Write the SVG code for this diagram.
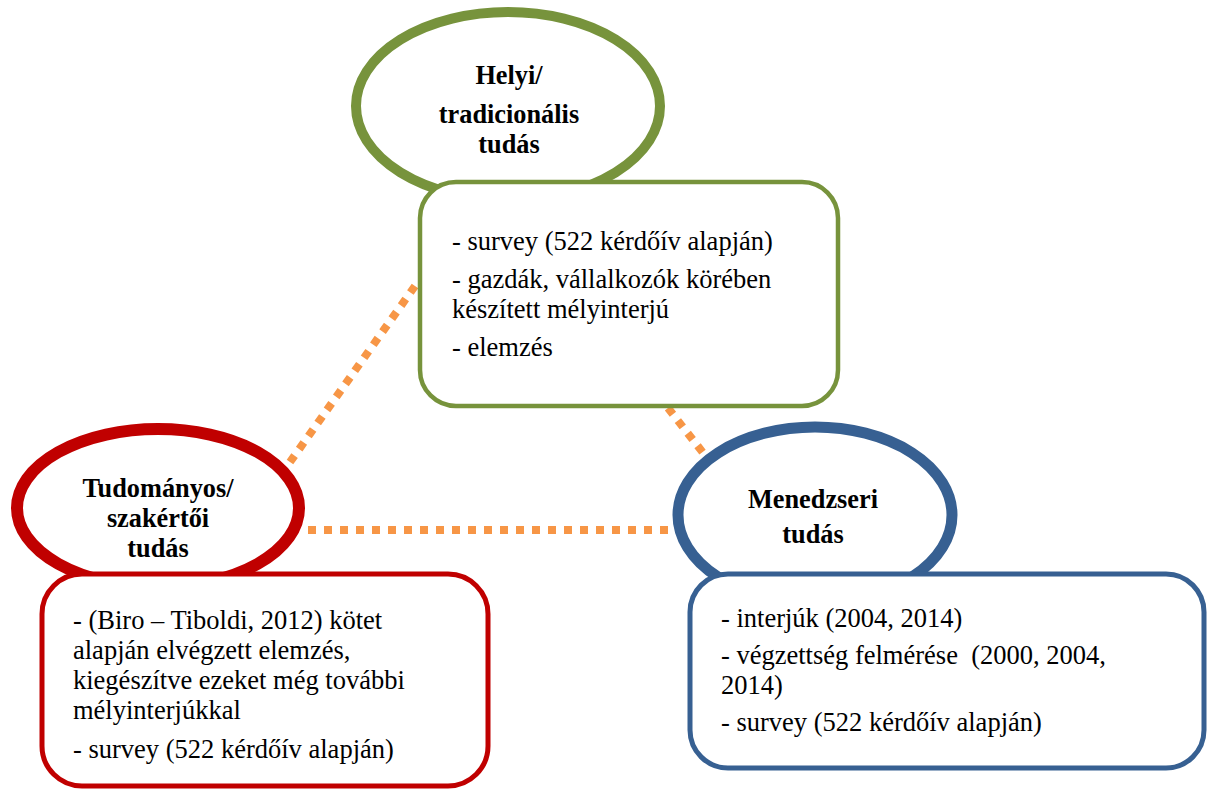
<svg xmlns="http://www.w3.org/2000/svg" width="1208" height="791" viewBox="0 0 1208 791">
<style>
.t{font-family:"Liberation Serif","Times New Roman",serif;font-size:26.5px;fill:#000}
.h{font-family:"Liberation Serif","Times New Roman",serif;font-size:26.3px;font-weight:bold;fill:#000;text-anchor:middle}
.dot{stroke:#F79646;stroke-width:8;stroke-dasharray:8 8;fill:none}
</style>
<rect width="1208" height="791" fill="#fff"/>
<g id="connectors">
<line class="dot" x1="415" y1="286" x2="290" y2="462"/>
<line class="dot" x1="308" y1="530" x2="676" y2="530"/>
<line class="dot" x1="668" y1="408" x2="704" y2="454"/>
</g>
<g id="helyi">
<ellipse cx="508" cy="106" rx="152" ry="94" fill="#fff" stroke="#77933C" stroke-width="10"/>
<rect x="420" y="182" width="418" height="224" rx="36" fill="#fff" stroke="#77933C" stroke-width="4.5"/>
<text class="h" x="509" y="84">Helyi/</text>
<text class="h" x="509" y="123">tradicionális</text>
<text class="h" x="509" y="153">tudás</text>
<text class="t" x="452" y="250">- survey (522 kérdőív alapján)</text>
<text class="t" x="452" y="288">- gazdák, vállalkozók körében</text>
<text class="t" x="452" y="318">készített mélyinterjú</text>
<text class="t" x="452" y="356">- elemzés</text>
</g>
<g id="tudomanyos">
<ellipse cx="158" cy="508" rx="141" ry="79" fill="#fff" stroke="#C00000" stroke-width="12"/>
<rect x="42" y="574" width="446" height="212" rx="40" fill="#fff" stroke="#C00000" stroke-width="5"/>
<text class="h" x="158" y="497">Tudományos/</text>
<text class="h" x="158" y="527">szakértői</text>
<text class="h" x="158" y="557">tudás</text>
<text class="t" x="73" y="629">- (Biro – Tiboldi, 2012) kötet</text>
<text class="t" x="73" y="659">alapján elvégzett elemzés,</text>
<text class="t" x="73" y="689">kiegészítve ezeket még további</text>
<text class="t" x="73" y="719">mélyinterjúkkal</text>
<text class="t" x="73" y="758">- survey (522 kérdőív alapján)</text>
</g>
<g id="menedzseri">
<ellipse cx="815" cy="515" rx="137" ry="88" fill="#fff" stroke="#376092" stroke-width="11"/>
<rect x="690" y="574" width="514" height="194" rx="38" fill="#fff" stroke="#376092" stroke-width="5"/>
<text class="h" x="813" y="508">Menedzseri</text>
<text class="h" x="813" y="543">tudás</text>
<text class="t" x="721" y="627">- interjúk (2004, 2014)</text>
<text class="t" x="721" y="664">- végzettség felmérése&#160; (2000, 2004,</text>
<text class="t" x="721" y="694">2014)</text>
<text class="t" x="721" y="731">- survey (522 kérdőív alapján)</text>
</g>
</svg>
